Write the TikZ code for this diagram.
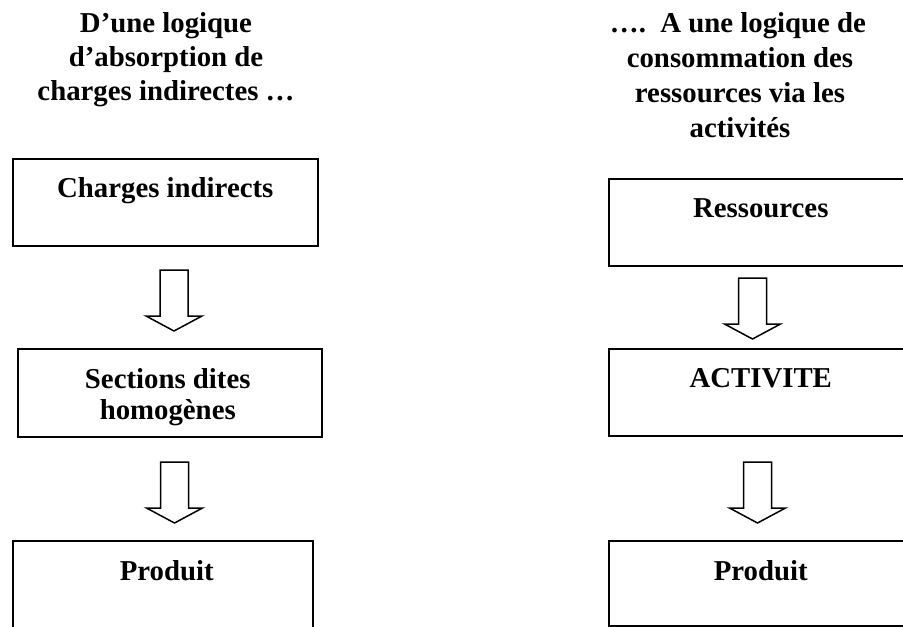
\documentclass[tikz,border=0pt]{standalone}
\usepackage{fontspec}
\setmainfont{Liberation Serif}
\begin{document}
\begin{tikzpicture}[x=1pt,y=-1pt,
  box/.style={draw, line width=1.5pt, rectangle, inner sep=0pt, anchor=north west},
  lbl/.style={anchor=base, inner sep=0pt, font=\bfseries\fontsize{28.8}{34}\selectfont},
  title/.style={lbl},
  arrowline/.style={draw, line width=1.5pt, line join=miter, fill=white},
  pics/downarrow/.style={code={
    \path[arrowline] (-14,0) -- (14,0) -- (14,46) -- (28,46) -- (0,61)
      -- (-28,46) -- (-14,46) -- cycle;}}]
\useasboundingbox (0,0) rectangle (903,627);
\clip (0,0) rectangle (903,627);

% left column heading
\node[title] (lt1) at (166,32) {D’une logique};
\node[title] (lt2) at (166,66) {d’absorption de};
\node[title] (lt3) at (166,100) {charges indirectes …};

% right column heading
\node[title] (rt1) at (738,32) {….\ \ A une logique de};
\node[title] (rt2) at (740,67) {consommation des};
\node[title] (rt3) at (740,102) {ressources via les};
\node[title] (rt4) at (740,137) {activités};

% left column boxes
\node[box, minimum width=305pt, minimum height=87pt] (l1) at (12,158) {};
\node[lbl] (l1t) at ([yshift=-39pt]l1.north) {Charges indirects};

\node[box, minimum width=304pt, minimum height=88pt] (l2) at (17,348) {};
\begin{scope}
  \clip (17,348) rectangle (321,425.5);
  \node[lbl] (l2t) at ([xshift=-2pt,yshift=-40pt]l2.north) {Sections dites};
  \node[lbl] (l2u) at ([xshift=-2pt,yshift=-71pt]l2.north) {homogènes};
\end{scope}

\node[box, minimum width=300pt, minimum height=110pt] (l3) at (12,540) {};
\node[lbl] (l3t) at ([xshift=4pt,yshift=-40pt]l3.north) {Produit};

% right column boxes
\node[box, minimum width=304pt, minimum height=87pt] (r1) at (608,178) {};
\node[lbl] (r1t) at ([yshift=-39pt]r1.north) {Ressources};

\node[box, minimum width=304pt, minimum height=87pt] (r2) at (608,348) {};
\node[lbl] (r2t) at ([yshift=-39pt]r2.north) {ACTIVITE};

\node[box, minimum width=304pt, minimum height=85pt] (r3) at (608,540) {};
\node[lbl] (r3t) at ([yshift=-40pt]r3.north) {Produit};

% block arrows between the steps
\pic (la1) at (174,270) {downarrow};
\pic (la2) at (174.5,462) {downarrow};
\pic (ra1) at (752.5,278) {downarrow};
\pic (ra2) at (757.5,462) {downarrow};
\end{tikzpicture}
\end{document}
